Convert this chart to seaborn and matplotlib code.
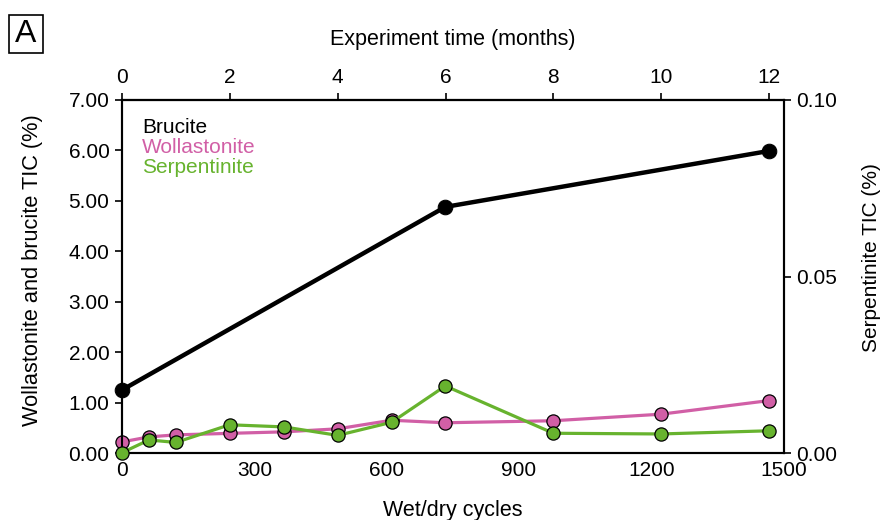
import matplotlib
matplotlib.use("Agg")
import matplotlib.pyplot as plt
import seaborn as sns
from matplotlib.patches import Rectangle

# Data
months = [0, 0.5, 1, 2, 3, 4, 5, 6, 8, 10, 12]
cycles = [0, 61, 122, 244, 367, 489, 611, 733, 978, 1222, 1467]
wollastonite = [0.22, 0.32, 0.36, 0.39, 0.42, 0.48, 0.65, 0.60, 0.64, 0.77, 1.04]
serpentinite = [0.0001, 0.0037, 0.0030, 0.0080, 0.0074, 0.0050, 0.0087, 0.0190, 0.0056, 0.0054, 0.0063]
brucite_cycles = [0, 733, 1467]
brucite = [1.25, 4.88, 5.99]

cycles_per_month = 122.25
left_ticks = [0, 1, 2, 3, 4, 5, 6, 7]
right_ticks = [0.0, 0.05, 0.10]
bottom_ticks = [0, 300, 600, 900, 1200, 1500]
top_ticks = [0, 2, 4, 6, 8, 10, 12]

PINK = "#d15fa6"
GREEN = "#67b32e"
FS = 15

sns.set_theme(style="white")
plt.rcParams["font.family"] = ["Liberation Sans", "DejaVu Sans"]
plt.rcParams["font.size"] = FS
plt.rcParams["text.color"] = "black"
plt.rcParams["axes.labelcolor"] = "black"

fig = plt.figure(figsize=(8.81, 5.2), dpi=100)
ax = fig.add_axes([0.1385, 0.1288, 0.751, 0.6789])
ax2 = ax.twinx()

sns.lineplot(x=cycles, y=wollastonite, ax=ax, color=PINK, linewidth=2.3,
             marker="o", markersize=9.5, markeredgecolor="black",
             markeredgewidth=0.9, clip_on=False, zorder=3)
sns.lineplot(x=brucite_cycles, y=brucite, ax=ax, color="black", linewidth=3.2,
             marker="o", markersize=10.5, markeredgecolor="black",
             clip_on=False, zorder=4)
sns.lineplot(x=cycles, y=serpentinite, ax=ax2, color=GREEN, linewidth=2.3,
             marker="o", markersize=9.5, markeredgecolor="black",
             markeredgewidth=0.9, clip_on=False, zorder=3)

ax.set_xlim(0, 1500)
ax.set_ylim(0, 7)
ax2.set_ylim(0, 0.1)

ax.set_xticks(bottom_ticks)
ax.set_yticks(left_ticks)
ax.set_yticklabels([f"{v:.2f}" for v in left_ticks])
ax2.set_yticks(right_ticks)
ax2.set_yticklabels([f"{v:.2f}" for v in right_ticks])

for a in (ax, ax2):
    for s in a.spines.values():
        s.set_visible(True)
        s.set_color("black")
        s.set_linewidth(1.5)

ax.tick_params(axis="x", direction="in", length=5, width=1.2, pad=6,
               labelsize=FS, colors="black")
ax.tick_params(axis="y", direction="out", length=5, width=1.2, pad=4,
               labelsize=FS, colors="black")
ax2.tick_params(axis="y", direction="out", length=5, width=1.2, pad=4,
                labelsize=FS, colors="black")

top = ax.secondary_xaxis("top", functions=(lambda c: c / cycles_per_month,
                                           lambda m: m * cycles_per_month))
top.set_xticks(top_ticks)
top.tick_params(direction="out", length=5, width=1.2, pad=4, labelsize=FS,
                colors="black")
top.spines["top"].set_linewidth(1.5)
top.set_xlabel("Experiment time (months)", fontsize=15.5, labelpad=17,
               color="black")

ax.set_xlabel("Wet/dry cycles", fontsize=15.5, labelpad=14)
ax.set_ylabel("Wollastonite and brucite TIC (%)", fontsize=15.7)
ax.yaxis.set_label_coords(-0.12, 0.518)
ax2.set_ylabel("Serpentinite TIC (%)", fontsize=15)
ax2.yaxis.set_label_coords(1.118, 0.555)

# legend as coloured text
ax.text(0.03, 0.923, "Brucite", transform=ax.transAxes, color="black",
        fontsize=FS, va="center")
ax.text(0.03, 0.866, "Wollastonite", transform=ax.transAxes, color=PINK,
        fontsize=FS, va="center")
ax.text(0.03, 0.809, "Serpentinite", transform=ax.transAxes, color=GREEN,
        fontsize=FS, va="center")

# panel label
fig.patches.append(Rectangle((9 / 881, 1 - 53 / 520), 34 / 881, 38 / 520,
                             transform=fig.transFigure, fill=False,
                             edgecolor="black", linewidth=1.2))
fig.text(26 / 881, 1 - 34 / 520, "A", fontsize=23, ha="center", va="center")

fig.savefig("out.png", dpi=100)
